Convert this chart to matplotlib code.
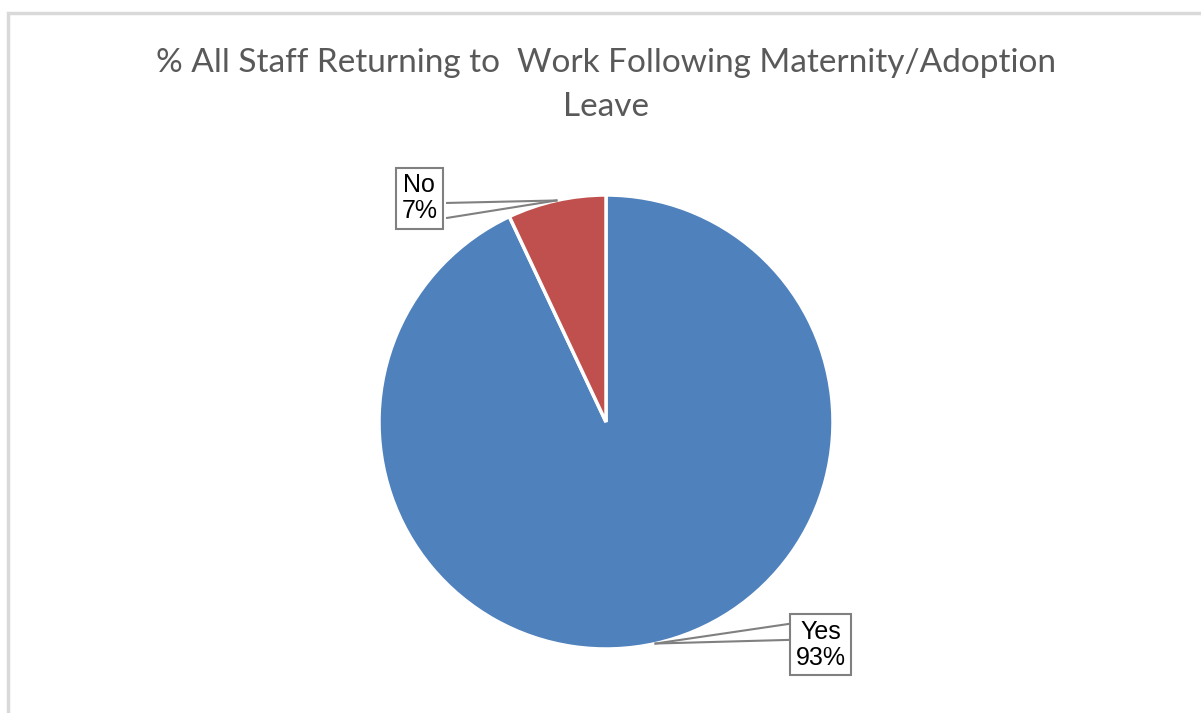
import numpy as np
import matplotlib.pyplot as plt
from matplotlib.patches import Rectangle

# data
labels = ['Yes', 'No']
values = [93, 7]
colors = ['#4F81BD', '#C0504D']

title = '% All Staff Returning to  Work Following Maternity/Adoption\nLeave'

fig = plt.figure(figsize=(12.01, 7.13), dpi=100)

# chart border (runs off the right and bottom edge)
fig.patches.append(Rectangle((8 / 1201, -0.1), 1.2, 0.1 + (713 - 13) / 713, transform=fig.transFigure,
                             fill=False, edgecolor='#D9D9D9', linewidth=2.5))

ax = fig.add_axes([379 / 1201, 64 / 713, 454 / 1201, 454 / 713])
wedges, _ = ax.pie(values, colors=colors, startangle=90, counterclock=False,
                   wedgeprops=dict(edgecolor='white', linewidth=2.5))
ax.set_xlim(-1, 1)
ax.set_ylim(-1, 1)
ax.set_aspect('equal')
ax.axis('off')

# data labels with callout lines
total = sum(values)
box_pos = {'No': (-0.822, 0.985), 'Yes': (0.945, -0.982)}
line_x = {'No': -0.70, 'Yes': 0.802}
line_y = {'No': (0.965, 0.899), 'Yes': (-0.89, -0.96)}
for w, lab, v in zip(wedges, labels, values):
    ang = np.deg2rad((w.theta1 + w.theta2) / 2)
    px, py = np.cos(ang), np.sin(ang)
    bx, by = box_pos[lab]
    ax.text(bx, by, f'{lab}\n{round(100 * v / total)}%', ha='center', va='center',
            fontsize=18, family='Liberation Sans', linespacing=1.1,
            bbox=dict(boxstyle='square,pad=0.22', facecolor='white', edgecolor='#808080', linewidth=1.5))
    for ly in line_y[lab]:
        ax.plot([line_x[lab], px], [ly, py], color='#808080', linewidth=1.5, clip_on=False)

fig.text(606 / 1201, 1 - 85 / 713, title, ha='center', va='center', fontsize=24,
         color='#595959', family='Lato', linespacing=1.55)

fig.savefig('out.png', dpi=100)
